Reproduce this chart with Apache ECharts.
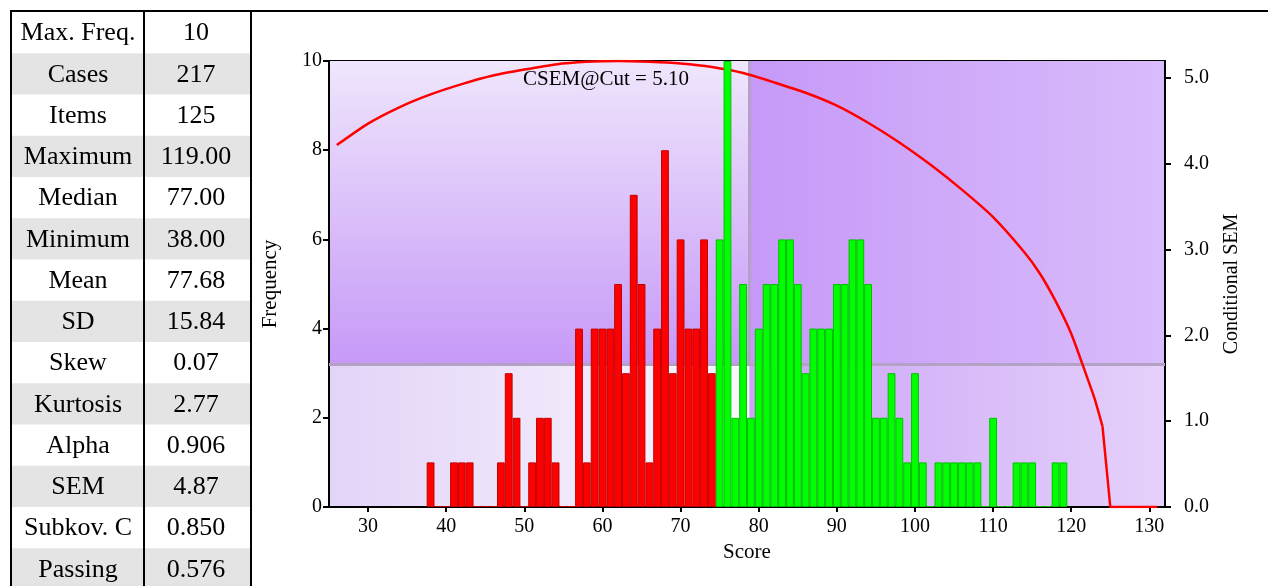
<!DOCTYPE html>
<html>
<head>
<meta charset="utf-8">
<script src="https://cdn.jsdelivr.net/npm/echarts@6/dist/echarts.min.js"></script>
<style>
  html, body { margin: 0; padding: 0; background: #fff; }
  #main { width: 1268px; height: 586px; }
</style>
</head>
<body>
<div id="main"></div>
<script>
// summary table
var statNames = ['Max. Freq.', 'Cases', 'Items', 'Maximum', 'Median', 'Minimum', 'Mean',
  'SD', 'Skew', 'Kurtosis', 'Alpha', 'SEM', 'Subkov. C', 'Passing'];
var statValues = ['10', '217', '125', '119.00', '77.00', '38.00', '77.68',
  '15.84', '0.07', '2.77', '0.906', '4.87', '0.850', '0.576'];

// histogram: score -> number of cases
var scores = [38, 39, 40, 41, 42, 43, 44, 45, 46, 47, 48, 49, 50, 51, 52, 53, 54, 55, 56, 57,
  58, 59, 60, 61, 62, 63, 64, 65, 66, 67, 68, 69, 70, 71, 72, 73, 74, 75, 76, 77,
  78, 79, 80, 81, 82, 83, 84, 85, 86, 87, 88, 89, 90, 91, 92, 93, 94, 95, 96, 97,
  98, 99, 100, 101, 102, 103, 104, 105, 106, 107, 108, 109, 110, 111, 112, 113, 114, 115, 116, 117,
  118, 119];
var freqs = [1, 0, 0, 1, 1, 1, 0, 0, 0, 1, 3, 2, 0, 1, 2, 2, 1, 0, 0, 4,
  1, 4, 4, 4, 5, 3, 7, 5, 1, 4, 8, 3, 6, 4, 4, 6, 3, 6, 10, 2,
  5, 2, 4, 5, 5, 6, 6, 5, 3, 4, 4, 4, 5, 5, 6, 6, 5, 2, 2, 3,
  2, 1, 3, 1, 0, 1, 1, 1, 1, 1, 1, 0, 2, 0, 0, 1, 1, 1, 0, 0,
  1, 1];
var passScore = 75;
var cutScore = 78.8;
var splitFreq = 3.2;

// conditional SEM curve (right axis); from 124 on it drops straight to zero
var csemScores = [26, 30, 34, 38, 42, 46, 50, 54, 58, 62, 66, 70, 74, 78, 82, 86, 90, 94,
  98, 102, 106, 110, 114, 116, 118, 120, 122, 123, 124, 125, 131];
var csemValues = [4.22, 4.47, 4.66, 4.81, 4.93, 5.03, 5.10, 5.16, 5.19, 5.20, 5.19, 5.17, 5.13,
  5.06, 4.95, 4.83, 4.68, 4.48, 4.25, 3.99, 3.70, 3.38, 2.97, 2.72, 2.40, 2.02, 1.52, 1.26, 0.94, 0, 0];
var csemSmoothEnd = 124;

var xTicks = [30, 40, 50, 60, 70, 80, 90, 100, 110, 120, 130];
var semTicks = [0, 1, 2, 3, 4, 5];

var font = "'Liberation Serif', 'Times New Roman', serif";
var chart = echarts.init(document.getElementById('main'));

// table drawn as graphic elements
var rowH = 41.25, tableTop = 12;
var tableEls = [];
statNames.forEach(function (name, i) {
  var y = tableTop + i * rowH;
  if (i % 2 === 1) {
    tableEls.push({ type: 'rect', shape: { x: 12, y: y, width: 238, height: rowH },
      style: { fill: '#e4e4e4' }, silent: true });
  }
  tableEls.push({ type: 'text', x: 78, y: y + rowH / 2 + 1,
    style: { text: name, font: '26px ' + font, fill: '#000', align: 'center', verticalAlign: 'middle' } });
  tableEls.push({ type: 'text', x: 196, y: y + rowH / 2 + 1,
    style: { text: statValues[i], font: '26px ' + font, fill: '#000', align: 'center', verticalAlign: 'middle' } });
});
[11, 144, 251].forEach(function (x) {
  tableEls.push({ type: 'line', shape: { x1: x, y1: 11, x2: x, y2: 586 }, style: { stroke: '#000', lineWidth: 2 } });
});
tableEls.push({ type: 'line', shape: { x1: 10, y1: 11, x2: 1268, y2: 11 }, style: { stroke: '#000', lineWidth: 2 } });
tableEls.push({ type: 'text', x: 523, y: 79, z: 10,
  style: { text: 'CSEM@Cut = 5.10', font: '21px ' + font, fill: '#000', verticalAlign: 'middle' } });

var barData = scores.map(function (s, i) {
  var pass = s >= passScore;
  return {
    value: [s, freqs[i]],
    itemStyle: { color: pass ? '#00ff00' : '#ff0000', borderColor: pass ? '#00c000' : '#c00000' }
  };
});

var csemPairs = csemScores.map(function (s, i) { return [s, csemValues[i]]; });
var curvePart = csemPairs.filter(function (p) { return p[0] <= csemSmoothEnd; });
var dropPart = csemPairs.filter(function (p) { return p[0] >= csemSmoothEnd; });

var option = {
  backgroundColor: '#fff',
  animation: false,
  textStyle: { fontFamily: font, color: '#000' },
  grid: { left: 329, right: 103, top: 61, bottom: 79, show: true, borderColor: '#000', borderWidth: 2, backgroundColor: 'transparent' },
  xAxis: {
    type: 'value', min: 25, max: 132,
    name: 'Score', nameLocation: 'middle', nameGap: 33,
    nameTextStyle: { fontSize: 21, fontFamily: font, color: '#000' },
    axisLine: { lineStyle: { color: '#000', width: 2 } },
    axisTick: { customValues: xTicks, length: 5, lineStyle: { color: '#000', width: 2 } },
    axisLabel: { customValues: xTicks, fontSize: 20, fontFamily: font, color: '#000', margin: 10 },
    splitLine: { show: false }
  },
  yAxis: [{
    type: 'value', min: 0, max: 10, interval: 2, position: 'left',
    name: 'Frequency', nameLocation: 'middle', nameRotate: 90, nameGap: 48,
    nameTextStyle: { fontSize: 21, fontFamily: font, color: '#000' },
    axisLine: { show: true, lineStyle: { color: '#000', width: 2 } },
    axisTick: { show: true, length: 6, lineStyle: { color: '#000', width: 2 } },
    axisLabel: { fontSize: 20, fontFamily: font, color: '#000', margin: 7, padding: [0, 0, 8, 0] },
    splitLine: { show: false }
  }, {
    type: 'value', min: 0, max: 5.2, position: 'right',
    name: 'Conditional SEM', nameLocation: 'middle', nameRotate: 90, nameGap: 57,
    nameTextStyle: { fontSize: 20, fontFamily: font, color: '#000' },
    axisLine: { show: true, lineStyle: { color: '#000', width: 2 } },
    axisTick: { show: true, customValues: semTicks, length: 6, lineStyle: { color: '#000', width: 2 } },
    axisLabel: { customValues: semTicks, fontSize: 20, fontFamily: font, color: '#000', margin: 19,
      padding: [0, 0, 6, 0], formatter: function (v) { return v.toFixed(1); } },
    splitLine: { show: false }
  }],
  series: [{
    type: 'bar',
    z: 3,
    barWidth: 7.8,
    barMinHeight: 1,
    data: barData,
    itemStyle: { borderWidth: 1 },
    markArea: {
      silent: true,
      z: 0,
      data: [
        [{ xAxis: 25, yAxis: splitFreq, itemStyle: { color: new echarts.graphic.LinearGradient(0, 0, 0, 1, [
          { offset: 0, color: '#efe6fc' }, { offset: 1, color: '#c699f7' }]) } },
         { xAxis: cutScore, yAxis: 10 }],
        [{ xAxis: cutScore, yAxis: splitFreq, itemStyle: { color: new echarts.graphic.LinearGradient(0, 0, 1, 0, [
          { offset: 0, color: '#c699f8' }, { offset: 1, color: '#d9bcfb' }]) } },
         { xAxis: 132, yAxis: 10 }],
        [{ xAxis: 25, yAxis: 0, itemStyle: { color: new echarts.graphic.LinearGradient(0, 0, 1, 0, [
          { offset: 0, color: '#e3d4f8' }, { offset: 1, color: '#faf7fe' }]) } },
         { xAxis: cutScore, yAxis: splitFreq }],
        [{ xAxis: cutScore, yAxis: 0, itemStyle: { color: new echarts.graphic.LinearGradient(0, 0, 1, 0, [
          { offset: 0, color: '#caa3f6' }, { offset: 1, color: '#e5d1fb' }]) } },
         { xAxis: 132, yAxis: splitFreq }]
      ]
    },
    markLine: {
      silent: true,
      z: 1,
      symbol: 'none',
      label: { show: false },
      lineStyle: { color: '#b3a1c6', width: 3, type: 'solid' },
      data: [
        [{ coord: [25, splitFreq] }, { coord: [132, splitFreq] }],
        [{ coord: [cutScore, splitFreq] }, { coord: [cutScore, 10] }]
      ]
    }
  }, {
    type: 'line',
    yAxisIndex: 1,
    z: 2,
    symbol: 'none',
    smooth: 0.2,
    lineStyle: { color: '#ff0000', width: 2.5 },
    data: curvePart
  }, {
    type: 'line',
    yAxisIndex: 1,
    z: 2,
    symbol: 'none',
    lineStyle: { color: '#ff0000', width: 2.5 },
    data: dropPart
  }],
  graphic: tableEls
};
chart.setOption(option);
</script>
</body>
</html>
